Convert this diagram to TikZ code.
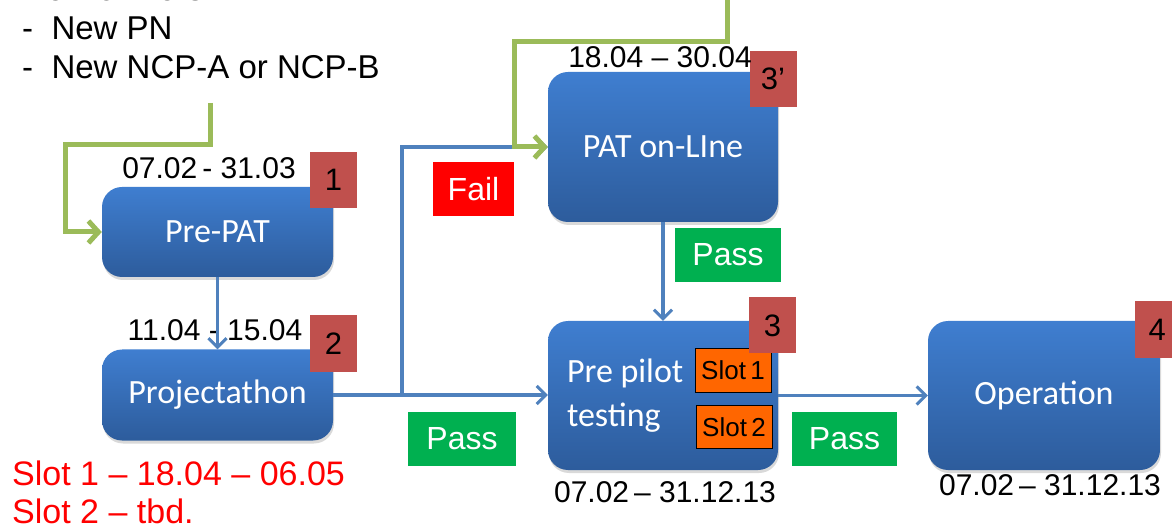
\documentclass[tikz,border=0pt]{standalone}
\usepackage{fontspec}
\setmainfont{Liberation Sans}
\newfontfamily\calib{Carlito}
\usetikzlibrary{arrows.meta,shadows}
\definecolor{boxtop}{HTML}{3F7ED0}
\definecolor{boxbot}{HTML}{2D5C9C}
\definecolor{badgered}{HTML}{C0504D}
\definecolor{lineblue}{HTML}{4F81BD}
\definecolor{linegreen}{HTML}{9BBB59}
\definecolor{passgreen}{HTML}{00B050}
\definecolor{slotorange}{HTML}{FF6600}
\tikzset{
  bluebox/.style={rounded corners=20pt, top color=boxtop, bottom color=boxbot, draw=none,
    text=white, font=\calib\fontsize{34}{44}\selectfont, inner sep=0pt,
    drop shadow={shadow xshift=1pt, shadow yshift=-3pt, opacity=0.25, fill=black!60}},
  badge/.style={fill=badgered, draw=none, minimum width=47pt, minimum height=56pt,
    inner sep=0pt, font=\fontsize{31}{36}\selectfont},
  datetxt/.style={anchor=base, font=\fontsize{30}{36}\selectfont, inner sep=0pt},
  tagbox/.style={draw=none, text=white, minimum width=106pt, minimum height=54pt,
    inner sep=0pt, font=\fontsize{32}{36}\selectfont},
  slotbox/.style={fill=slotorange, draw=black, line width=1pt, minimum width=76pt,
    minimum height=43pt, inner sep=0pt, font=\fontsize{26}{30}\selectfont},
  bluearrow/.style={draw=lineblue, line width=3.5pt, -{Straight Barb[length=9pt,width=18pt,line width=3pt]}},
  greenarrow/.style={draw=linegreen, line width=5pt, -{Straight Barb[length=10pt,width=22pt,line width=5pt]}},
  plaintxt/.style={anchor=base west, inner sep=0pt, font=\fontsize{33}{38}\selectfont}
}
\begin{document}
\begin{tikzpicture}[x=1pt,y=-1pt]
\useasboundingbox (0,0) rectangle (1172,526);
\clip (0,0) rectangle (1172,526);

% top text
\node[plaintxt] (own) at (22,1) {New owners:};
\node[plaintxt] (pn) at (22,40) {-\ \ New PN};
\node[plaintxt] (ncp) at (22,79) {-\ \ New NCP-A or NCP-B};

% boxes
\node[bluebox, minimum width=231pt, minimum height=90pt] (prepat) at (217.5,232) {Pre-PAT};
\node[bluebox, minimum width=231pt, minimum height=91pt] (proj) at (217.5,395) {Projectathon};
\node[bluebox, minimum width=230pt, minimum height=150pt] (pat) at (663,147) {PAT on-LIne};
\node[bluebox, minimum width=230pt, minimum height=149pt, text width=192pt, align=flush left, inner xsep=19pt] (pilot) at (663,395.5) {Pre pilot\\testing};
\node[bluebox, minimum width=232pt, minimum height=149pt] (oper) at (1044,395.5) {Operation};

% slots
\node[slotbox] (s1) at (733,370.5) {Slot\,1};
\node[slotbox] (s2) at (734,427) {Slot\,2};

% badges
\node[badge] (b1) at (333.5,180) {1};
\node[badge] (b2) at (333.5,343.5) {2};
\node[badge] (b3p) at (773,79) {3’};
\node[badge] (b3) at (772.5,325.5) {3};
\node[badge, text width=40pt, align=left, inner xsep=0pt] (b4) at (1158.5,329.5) {\hspace*{10pt}4};

% dates
\node[datetxt] (d1) at (209,179) {07.02\,- 31.03};
\node[datetxt] (d2) at (215,341) {11.04 - 15.04};
\node[datetxt] (d3) at (660,68) {18.04 – 30.04};
\node[datetxt] (d4) at (665,502) {07.02\,– 31.12.13};
\node[datetxt] (d5) at (1050,495) {07.02\,– 31.12.13};

% red slot text
\node[plaintxt, text=red, font=\fontsize{34}{38}\selectfont] (r1) at (12,485) {Slot 1 – 18.04 – 06.05};
\node[plaintxt, text=red, font=\fontsize{34}{38}\selectfont] (r2) at (12,523) {Slot 2 – tbd.};

% tags
\node[tagbox, fill=red, minimum width=81pt] (fail) at (473.5,189) {Fail};
\node[tagbox, fill=passgreen] (pass1) at (728,255) {Pass};
\node[tagbox, fill=passgreen, minimum width=108pt] (pass2) at (462,439) {Pass};
\node[tagbox, fill=passgreen, minimum width=105pt] (pass3) at (844.5,438.5) {Pass};

% connectors
\coordinate (j) at (402,395);
\coordinate (g1) at (210,103);
\coordinate (g1c) at (65,145);
\coordinate (g2) at (727,0);
\coordinate (g2c) at (514,42);

\draw[bluearrow] (prepat.south) -- (proj.north);
\draw[bluearrow] (proj.east) -- (pilot.west |- proj.east);
\draw[bluearrow] (j) |- (pat.west);
\draw[bluearrow] (pat.south) -- (pilot.north);
\draw[bluearrow] (pilot.east) -- (oper.west);

\draw[greenarrow] (g1) |- (g1c) |- (prepat.west);
\draw[greenarrow] (g2) |- (g2c) |- (pat.west);
\end{tikzpicture}
\end{document}
